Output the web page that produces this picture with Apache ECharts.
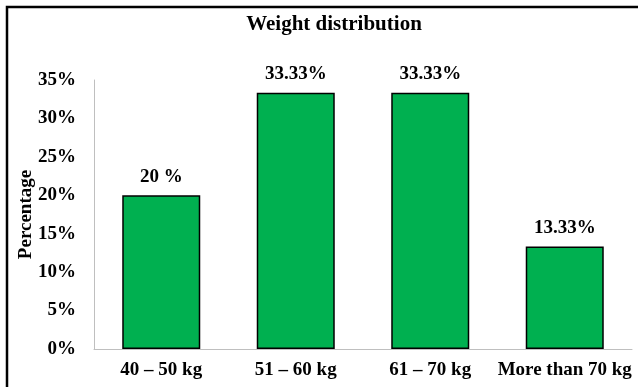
<!DOCTYPE html>
<html>
<head>
<meta charset="utf-8">
<style>
  html, body { margin: 0; padding: 0; background: #ffffff; }
  #chart { width: 638px; height: 387px; }
</style>
<script src="https://cdn.jsdelivr.net/npm/echarts@6/dist/echarts.min.js"></script>
</head>
<body>
<div id="chart"></div>
<script>
// Weight groups and the share of respondents in each (percent)
const categories = ['40 \u2013 50 kg', '51 \u2013 60 kg', '61 \u2013 70 kg', 'More than 70 kg'];
const percentages = [20, 33.33, 33.33, 13.33];
const barLabels = ['20 %', '33.33%', '33.33%', '13.33%'];
const yTicks = { min: 0, max: 35, step: 5 };

const FONT = "'Liberation Serif', 'Times New Roman', serif";

const chart = echarts.init(document.getElementById('chart'), null, { renderer: 'canvas' });

chart.setOption({
  backgroundColor: '#ffffff',
  animation: false,
  title: {
    text: 'Weight distribution',
    left: 329,
    top: 9,
    textAlign: 'center',
    textStyle: { fontFamily: FONT, fontWeight: 'bold', fontSize: 21, color: '#000000' }
  },
  graphic: [{
    type: 'rect',
    shape: { x: 7, y: 7, width: 660, height: 420 },
    style: { fill: null, stroke: '#000000', lineWidth: 2.5 },
    silent: true
  }],
  grid: { left: 94, right: 6, top: 80, bottom: 38, containLabel: false },
  xAxis: {
    type: 'category',
    data: categories,
    axisLine: { show: true, lineStyle: { color: '#bfbfbf', width: 1 } },
    axisTick: { show: false },
    axisLabel: {
      interval: 0,
      margin: 12,
      fontFamily: FONT, fontWeight: 'bold', fontSize: 19, color: '#000000'
    }
  },
  yAxis: {
    type: 'value',
    min: yTicks.min,
    max: yTicks.max,
    interval: yTicks.step,
    name: 'Percentage',
    nameLocation: 'middle',
    nameGap: 58,
    nameRotate: 90,
    nameMoveOverlap: false,
    nameTextStyle: { fontFamily: FONT, fontWeight: 'bold', fontSize: 19, color: '#000000' },
    axisLine: { show: true, lineStyle: { color: '#bfbfbf', width: 1 } },
    axisTick: { show: false },
    splitLine: { show: false },
    axisLabel: {
      margin: 18,
      formatter: '{value}%',
      fontFamily: FONT, fontWeight: 'bold', fontSize: 19, color: '#000000'
    }
  },
  series: [{
    type: 'bar',
    data: percentages,
    barWidth: '58%',
    itemStyle: { color: '#00b050', borderColor: '#000000', borderWidth: 1.5 },
    label: {
      show: true,
      position: 'top',
      distance: 9,
      formatter: p => barLabels[p.dataIndex],
      fontFamily: FONT, fontWeight: 'bold', fontSize: 19, color: '#000000'
    }
  }]
});
</script>
</body>
</html>
